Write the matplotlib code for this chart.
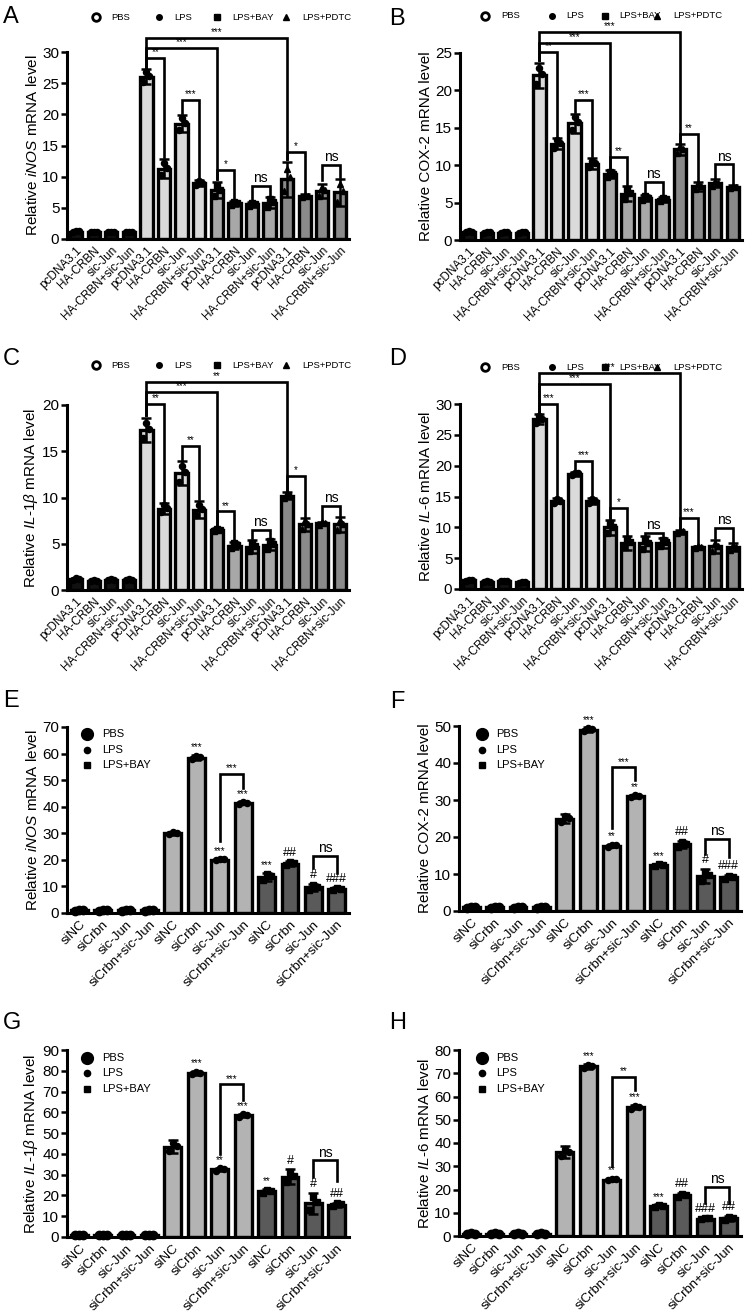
import matplotlib
matplotlib.use('Agg')
import matplotlib.pyplot as plt
from matplotlib.lines import Line2D
import numpy as np

plt.rcParams['font.family'] = ['Liberation Sans', 'DejaVu Sans']
plt.rcParams['mathtext.fontset'] = 'custom'
plt.rcParams['mathtext.rm'] = 'Liberation Sans'
plt.rcParams['mathtext.it'] = 'Liberation Sans:italic'
plt.rcParams['mathtext.bf'] = 'Liberation Sans:bold'

W, H = 745, 1316

# ---------------- data, panels A-D ----------------
labels_ad = ['pcDNA3.1', 'HA-CRBN', 'sic-Jun', 'HA-CRBN+sic-Jun'] * 4
groups_ad = ['PBS', 'LPS', 'LPS+BAY', 'LPS+PDTC']

inos_ad = [1.2, 1.1, 1.1, 1.1, 26.0, 11.3, 18.5, 9.0, 7.8, 5.7, 5.6, 5.8, 9.6, 6.9, 7.7, 7.5]
inos_ad_sd = [0.1, 0.05, 0.05, 0.05, 1.2, 1.5, 1.4, 0.5, 1.3, 0.4, 0.4, 0.9, 2.8, 0.3, 1.2, 2.2]
cox_ad = [1.1, 1.0, 1.0, 1.0, 22.0, 12.9, 15.6, 10.2, 8.8, 6.2, 5.6, 5.4, 12.1, 7.2, 7.6, 7.1]
cox_ad_sd = [0.1, 0.05, 0.05, 0.05, 1.7, 0.8, 1.3, 0.7, 0.5, 1.0, 0.4, 0.3, 0.7, 0.6, 0.5, 0.3]
il1b_ad = [1.2, 1.0, 1.1, 1.1, 17.3, 8.8, 12.6, 8.7, 6.5, 4.8, 4.7, 4.9, 10.2, 7.1, 7.2, 7.1]
il1b_ad_sd = [0.1, 0.05, 0.1, 0.1, 1.3, 0.6, 1.3, 0.9, 0.2, 0.4, 0.7, 0.6, 0.4, 0.7, 0.2, 0.8]
il6_ad = [1.4, 1.2, 1.3, 1.1, 27.5, 14.3, 18.7, 14.3, 10.0, 7.5, 7.4, 7.5, 9.3, 6.8, 6.9, 6.8]
il6_ad_sd = [0.2, 0.1, 0.1, 0.1, 0.8, 0.4, 0.3, 0.5, 1.2, 1.1, 1.2, 0.8, 0.3, 0.2, 1.0, 0.6]

# brackets: (bar i, bar j, label, height, left leg end, right leg end)
br_a = [(4, 12, '***', 32.3, 27.6, 12.8), (4, 8, '***', 30.6, 27.6, 9.6),
        (4, 5, '**', 29.0, 27.6, 13.2), (6, 7, '***', 22.3, 20.2, 9.9),
        (8, 9, '*', 11.1, 9.6, 6.5), (10, 11, 'ns', 8.5, 6.4, 7.0),
        (12, 13, '*', 14.0, 12.8, 7.6), (14, 15, 'ns', 11.9, 9.4, 10.0)]
br_b = [(4, 12, '***', 27.8, 24.0, 13.1), (4, 8, '***', 26.4, 24.0, 9.6),
        (4, 5, '**', 25.1, 24.0, 13.9), (6, 7, '***', 18.7, 17.1, 11.2),
        (8, 9, '**', 11.1, 9.6, 7.4), (10, 11, 'ns', 7.8, 6.2, 5.9),
        (12, 13, '**', 14.2, 13.1, 8.0), (14, 15, 'ns', 10.1, 8.3, 7.6)]
br_c = [(4, 12, '**', 22.5, 18.9, 10.8), (4, 8, '***', 21.4, 18.9, 6.9),
        (4, 5, '**', 20.1, 18.9, 9.6), (6, 7, '**', 15.6, 14.1, 9.8),
        (8, 9, '**', 8.5, 6.9, 5.4), (10, 11, 'ns', 6.5, 5.6, 5.7),
        (12, 13, '*', 12.3, 10.8, 8.0), (14, 15, 'ns', 9.1, 7.6, 8.0)]
br_d = [(4, 12, '***', 35.0, 28.7, 9.8), (4, 8, '***', 33.3, 28.7, 11.4),
        (4, 5, '***', 30.0, 28.7, 15.0), (6, 7, '***', 20.8, 19.3, 15.0),
        (8, 9, '*', 13.1, 11.4, 8.8), (10, 11, 'ns', 9.1, 8.8, 8.5),
        (12, 13, '***', 11.5, 9.8, 7.2), (14, 15, 'ns', 9.9, 8.2, 7.6)]

# ---------------- data, panels E-H ----------------
labels_eh = ['siNC', 'siCrbn', 'sic-Jun', 'siCrbn+sic-Jun'] * 3
groups_eh = ['PBS', 'LPS', 'LPS+BAY']

inos_eh = [1.0, 1.0, 1.0, 1.0, 30.0, 58.5, 20.1, 41.5, 13.6, 18.6, 9.6, 9.1]
inos_eh_sd = [0.3, 0.3, 0.3, 0.3, 0.6, 1.0, 0.4, 0.5, 1.5, 0.8, 1.5, 0.5]
cox_eh = [1.0, 1.0, 1.0, 1.0, 25.0, 49.0, 17.7, 31.0, 12.5, 18.0, 9.5, 9.2]
cox_eh_sd = [0.3, 0.3, 0.3, 0.3, 1.3, 0.6, 0.4, 0.4, 0.3, 1.0, 1.8, 0.6]
il1b_eh = [1.0, 1.0, 1.0, 1.0, 43.5, 79.0, 32.5, 58.5, 22.0, 29.0, 16.3, 15.6]
il1b_eh_sd = [0.3, 0.3, 0.3, 0.3, 3.0, 1.0, 0.8, 0.8, 1.0, 3.5, 5.0, 1.0]
il6_eh = [1.0, 1.0, 1.0, 1.0, 36.0, 73.0, 24.3, 55.5, 13.0, 17.6, 7.5, 7.6]
il6_eh_sd = [0.3, 0.3, 0.3, 0.3, 2.5, 1.0, 0.5, 1.0, 0.6, 1.0, 0.5, 1.0]

sig_e = ['', '', '', '', '', '***', '***', '***', '***', '##', '#', '###']
sig_f = ['', '', '', '', '', '***', '**', '**', '***', '##', '#', '###']
sig_g = ['', '', '', '', '', '***', '**', '***', '**', '#', '#', '##']
sig_h = ['', '', '', '', '', '***', '**', '***', '***', '##', '###', '##']

br_e = [(6, 7, '***', 52.5, 27.0, 47.0), (10, 11, 'ns', 21.6, 17.0, 15.0)]
br_f = [(6, 7, '***', 38.8, 22.5, 35.5), (10, 11, 'ns', 19.5, 15.5, 14.5)]
br_g = [(6, 7, '***', 73.4, 40.0, 66.0), (10, 11, 'ns', 36.9, 29.0, 27.0)]
br_h = [(6, 7, '**', 68.3, 30.0, 63.0), (10, 11, 'ns', 21.0, 14.0, 14.0)]

fills_ad = ['#111111', '#dadada', '#a8a8a8', '#8a8a8a']
fills_eh = ['#111111', '#b3b3b3', '#5a5a5a']
marks_ad = ['o', 'o', 's', '^']
marks_eh = ['o', 'o', 's']
msize_ad = [4.4, 4.4, 4.4, 4.4]
msize_eh = [6.0, 4.4, 4.4]


def add_ax(fig, left, right, top, bottom):
    return fig.add_axes([left / W, 1 - bottom / H, (right - left) / W, (bottom - top) / H])


def draw_panel(ax, means, sds, labels, fills, marks, msizes, ymax, ystep, ylabel, width, xfs):
    n = len(means)
    x = np.arange(n)
    cols = [fills[i // 4] for i in range(n)]
    ax.bar(x, means, width=width, color=cols, edgecolor='black', linewidth=2.4, zorder=2)
    ax.errorbar(x, means, yerr=sds, fmt='none', ecolor='black', elinewidth=1.8,
                capsize=3.8, capthick=1.8, zorder=3)
    # replicate points drawn around mean
    for i in range(n):
        m, s = means[i], sds[i]
        ax.plot(x[i] + np.array([-0.17, 0.0, 0.17]), m + s * np.array([-0.7, 0.6, 0.1]),
                linestyle='none', marker=marks[i // 4], color='black',
                markersize=msizes[i // 4], zorder=4, clip_on=False)
    ax.set_xlim(-0.52, n - 0.48)
    ax.set_ylim(0, ymax)
    ax.set_yticks(np.arange(0, ymax + 0.1, ystep))
    ax.set_xticks(x)
    ax.set_xticklabels(labels, rotation=45, ha='right', rotation_mode='anchor', fontsize=xfs)
    ax.tick_params(axis='x', length=0, pad=4)
    ax.tick_params(axis='y', length=4, width=1.8, labelsize=11, pad=1.5)
    for sp in ['top', 'right']:
        ax.spines[sp].set_visible(False)
    for sp in ['left', 'bottom']:
        ax.spines[sp].set_linewidth(2.2)
    ax.set_ylabel(ylabel, fontsize=11, labelpad=2)


def bracket(ax, i, j, lab, yh, yl, yr):
    ax.plot([i, i, j, j], [yl, yh, yh, yr], color='black', linewidth=1.9,
            solid_joinstyle='miter', clip_on=False, zorder=5)
    fs = 10 if lab == 'ns' else 7
    ax.annotate(lab, xy=((i + j) / 2, yh), xytext=(0, 0.5), textcoords='offset points',
                ha='center', va='bottom', fontsize=fs, annotation_clip=False)


def bar_marks(ax, means, sds, sig):
    for i, lab in enumerate(sig):
        if lab:
            fs = 7 if '*' in lab else 9
            ax.annotate(lab, xy=(i, means[i] + sds[i]), xytext=(0, 2), textcoords='offset points',
                        ha='center', va='bottom', fontsize=fs, annotation_clip=False)


def legend_row(fig, y, mx, tx, marks, labels):
    for k in range(len(labels)):
        if k == 0:
            fig.add_artist(Line2D([mx[k] / W], [1 - y / H], marker='o', markersize=5.5,
                                  markerfacecolor='white', markeredgecolor='black',
                                  markeredgewidth=2.0, transform=fig.transFigure))
        else:
            fig.add_artist(Line2D([mx[k] / W], [1 - y / H], marker=marks[k], markersize=4,
                                  color='black', transform=fig.transFigure))
        fig.text(tx[k] / W, 1 - y / H, labels[k], fontsize=6.8, va='center', ha='left')


def legend_col(fig, ys, mx, tx, marks, labels):
    sizes = [8.5, 4.5, 4.5]
    for k in range(len(labels)):
        fig.add_artist(Line2D([mx / W], [1 - ys[k] / H], marker=marks[k], markersize=sizes[k],
                              color='black', transform=fig.transFigure))
        fig.text(tx / W, 1 - ys[k] / H, labels[k], fontsize=8, va='center', ha='left')


fig = plt.figure(figsize=(W / 100, H / 100), dpi=100)

# A-D
axA = add_ax(fig, 67, 349, 52, 239)
draw_panel(axA, inos_ad, inos_ad_sd, labels_ad, fills_ad, marks_ad, msize_ad, 30, 5,
           r'Relative $\mathit{iNOS}$ mRNA level', 0.7, 8.5)
axB = add_ax(fig, 460, 742, 53, 240)
draw_panel(axB, cox_ad, cox_ad_sd, labels_ad, fills_ad, marks_ad, msize_ad, 25, 5,
           'Relative COX-2 mRNA level', 0.7, 8.5)
axC = add_ax(fig, 67, 349, 405, 590)
draw_panel(axC, il1b_ad, il1b_ad_sd, labels_ad, fills_ad, marks_ad, msize_ad, 20, 5,
           r'Relative $\mathit{IL}$-$\mathit{1\beta}$ mRNA level', 0.7, 8.5)
axD = add_ax(fig, 460, 742, 404, 589)
draw_panel(axD, il6_ad, il6_ad_sd, labels_ad, fills_ad, marks_ad, msize_ad, 30, 5,
           r'Relative $\mathit{IL}$-6 mRNA level', 0.7, 8.5)
for ax, brs in [(axA, br_a), (axB, br_b), (axC, br_c), (axD, br_d)]:
    for b in brs:
        bracket(ax, *b)

# E-H
axE = add_ax(fig, 67, 349, 727, 913)
draw_panel(axE, inos_eh, inos_eh_sd, labels_eh, fills_eh, marks_eh, msize_eh, 70, 10,
           r'Relative $\mathit{iNOS}$ mRNA level', 0.72, 9.5)
axF = add_ax(fig, 459, 741, 726, 911)
draw_panel(axF, cox_eh, cox_eh_sd, labels_eh, fills_eh, marks_eh, msize_eh, 50, 10,
           'Relative COX-2 mRNA level', 0.72, 9.5)
axG = add_ax(fig, 67, 349, 1050, 1237)
draw_panel(axG, il1b_eh, il1b_eh_sd, labels_eh, fills_eh, marks_eh, msize_eh, 90, 10,
           r'Relative $\mathit{IL}$-$\mathit{1\beta}$ mRNA level', 0.72, 9.5)
axH = add_ax(fig, 459, 741, 1050, 1236)
draw_panel(axH, il6_eh, il6_eh_sd, labels_eh, fills_eh, marks_eh, msize_eh, 80, 10,
           r'Relative $\mathit{IL}$-6 mRNA level', 0.72, 9.5)
for ax, m, s, sig, brs in [(axE, inos_eh, inos_eh_sd, sig_e, br_e),
                           (axF, cox_eh, cox_eh_sd, sig_f, br_f),
                           (axG, il1b_eh, il1b_eh_sd, sig_g, br_g),
                           (axH, il6_eh, il6_eh_sd, sig_h, br_h)]:
    bar_marks(ax, m, s, sig)
    for b in brs:
        bracket(ax, *b)

# legends
left_mx, left_tx = [96, 159, 217, 286], [111, 174, 232, 302]
right_mx, right_tx = [485, 552, 605, 657], [501, 566, 619, 673]
legend_row(fig, 17, left_mx, left_tx, marks_ad, groups_ad)
legend_row(fig, 16, right_mx, right_tx, marks_ad, groups_ad)
legend_row(fig, 365, left_mx, left_tx, marks_ad, groups_ad)
legend_row(fig, 367, right_mx, right_tx, marks_ad, groups_ad)
legend_col(fig, [734, 750, 765], 87, 102, marks_eh, groups_eh)
legend_col(fig, [734, 750, 765], 482, 496, marks_eh, groups_eh)
legend_col(fig, [1058, 1073, 1089], 87, 102, marks_eh, groups_eh)
legend_col(fig, [1058, 1073, 1089], 482, 496, marks_eh, groups_eh)

# panel letters
for lab, xp, yp in [('A', 3, 6), ('B', 389, 8), ('C', 3, 348), ('D', 389, 348),
                    ('E', 3, 690), ('F', 390, 691), ('G', 3, 1012), ('H', 389, 1012)]:
    fig.text(xp / W, 1 - yp / H, lab, fontsize=17, va='top', ha='left')

fig.savefig('out.png', dpi=100)
